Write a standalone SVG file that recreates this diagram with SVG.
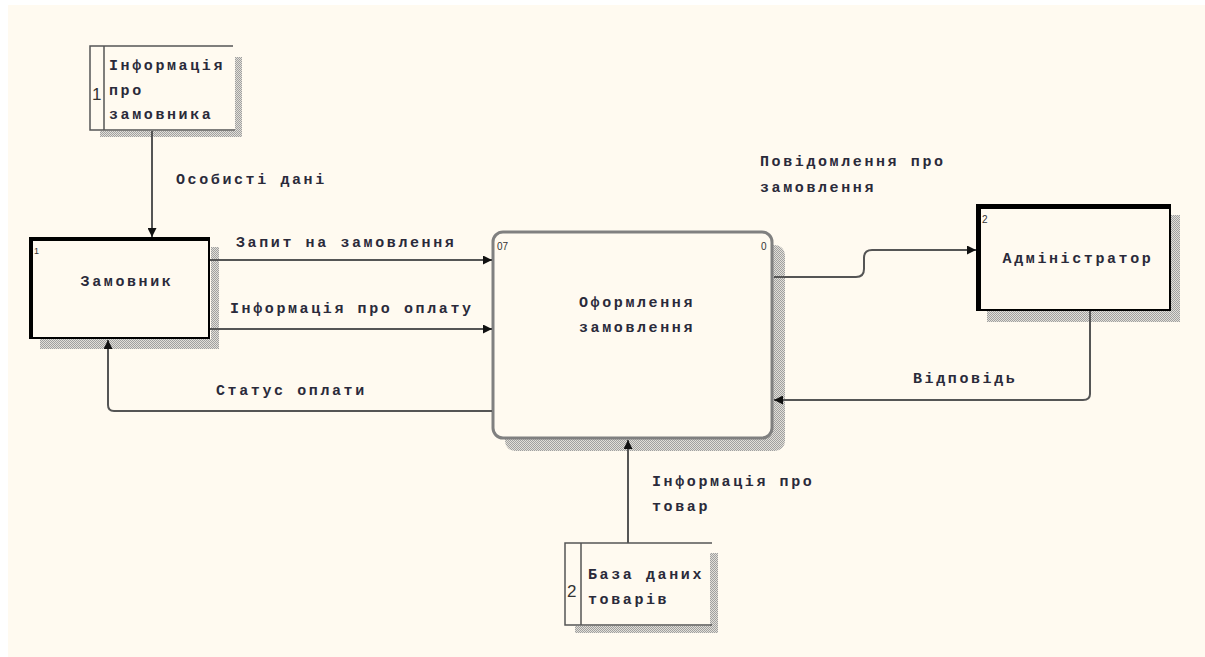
<svg xmlns="http://www.w3.org/2000/svg" width="1205" height="657" viewBox="0 0 1205 657">
<defs>
<pattern id="dots" width="2" height="2" patternUnits="userSpaceOnUse">
<rect x="0" y="0" width="1" height="1" fill="#a0a0a0"/>
<rect x="1" y="1" width="1" height="1" fill="#a0a0a0"/>
<rect x="1" y="0" width="1" height="1" fill="#e2dfd8"/>
<rect x="0" y="1" width="1" height="1" fill="#e2dfd8"/>
</pattern>
<marker id="arr" viewBox="0 0 10 10" refX="10" refY="5" markerWidth="11" markerHeight="9" markerUnits="userSpaceOnUse" orient="auto">
<path d="M0,0 L10,5 L0,10 z" fill="#111"/>
</marker>
<style>
.t{font-family:"Liberation Mono","DejaVu Sans Mono",monospace;font-weight:bold;font-size:15px;letter-spacing:2.6px;fill:#2a2a3a}
.n{font-family:"Liberation Sans",Arial,sans-serif;fill:#333}
.c{fill:none;stroke:#555;stroke-width:2;stroke-linejoin:round}
.sh{fill:url(#dots)}
.st{fill:none;stroke:#555;stroke-width:1.5}
</style>
</defs>
<rect x="0" y="0" width="1205" height="657" fill="#ffffff"/>
<rect x="8" y="5" width="1197" height="652" fill="#fffaf0"/>

<g id="store1">
<rect class="sh" x="235" y="57" width="7" height="80"/>
<rect class="sh" x="100" y="131" width="142" height="6"/>
<path class="st" d="M233,46 L90,46 L90,130 L235,130"/>
<line class="st" x1="104" y1="46" x2="104" y2="130"/>
<text class="n" x="92" y="100" font-size="17">1</text>
<text class="t" x="109" y="70">Інформація</text>
<text class="t" x="109" y="95">про</text>
<text class="t" x="109" y="119">замовника</text>
</g>

<g id="zamovnyk">
<rect class="sh" x="211" y="247" width="8" height="102"/>
<rect class="sh" x="40" y="339" width="179" height="10"/>
<rect x="30" y="238" width="179" height="100" fill="#fffaf0" stroke="#000" stroke-width="2"/>
<path d="M31.5,338 L31.5,239.5 L209,239.5" fill="none" stroke="#000" stroke-width="3"/>
<text class="n" x="34" y="254" font-size="9">1</text>
<text class="t" x="127" y="286" text-anchor="middle">Замовник</text>
</g>

<g id="process">
<rect class="sh" x="505" y="245" width="280" height="206" rx="10"/>
<rect x="493" y="232" width="279" height="206" rx="10" fill="#fffaf0" stroke="#808080" stroke-width="3"/>
<text class="n" x="497" y="250" font-size="10">07</text>
<text class="n" x="761" y="250" font-size="10">0</text>
<text class="t" x="637" y="307" text-anchor="middle">Оформлення</text>
<text class="t" x="637" y="332" text-anchor="middle">замовлення</text>
</g>

<g id="admin">
<rect class="sh" x="1171" y="215" width="9" height="107"/>
<rect class="sh" x="987" y="311" width="193" height="11"/>
<rect x="977" y="205" width="193" height="105" fill="#fffaf0" stroke="#000" stroke-width="2"/>
<path d="M979,310 L979,207 L1170,207" fill="none" stroke="#000" stroke-width="4"/>
<text class="n" x="982" y="223" font-size="10">2</text>
<text class="t" x="1078" y="263" text-anchor="middle">Адміністратор</text>
</g>

<g id="store2">
<rect class="sh" x="710" y="553" width="8" height="80"/>
<rect class="sh" x="575" y="626" width="143" height="7"/>
<path class="st" d="M712,543 L565,543 L565,625 L712,625"/>
<line class="st" x1="581" y1="543" x2="581" y2="625"/>
<text class="n" x="567" y="597" font-size="17">2</text>
<text class="t" x="588" y="579">База даних</text>
<text class="t" x="588" y="604">товарів</text>
</g>

<g id="connectors">
<path class="c" d="M152,131 L152,237" marker-end="url(#arr)"/>
<text class="t" x="176" y="184">Особисті дані</text>
<path class="c" d="M210,260 L492,260" marker-end="url(#arr)"/>
<text class="t" x="236" y="247">Запит на замовлення</text>
<path class="c" d="M210,329 L492,329" marker-end="url(#arr)"/>
<text class="t" x="230" y="313">Інформація про оплату</text>
<path class="c" d="M492,411 L114,411 Q108,411 108,405 L108,340" marker-end="url(#arr)"/>
<text class="t" x="216" y="395">Статус оплати</text>
<path class="c" d="M774,277 L856,277 Q864,277 864,269 L864,258 Q864,250 872,250 L976,250" marker-end="url(#arr)"/>
<text class="t" x="760" y="166">Повідомлення про</text>
<text class="t" x="760" y="192">замовлення</text>
<path class="c" d="M1090,311 L1090,394 Q1090,400 1083,400 L774,400" marker-end="url(#arr)"/>
<text class="t" x="913" y="383">Відповідь</text>
<path class="c" d="M628,543 L628,440" marker-end="url(#arr)"/>
<text class="t" x="652" y="486">Інформація про</text>
<text class="t" x="652" y="511">товар</text>
</g>
</svg>
